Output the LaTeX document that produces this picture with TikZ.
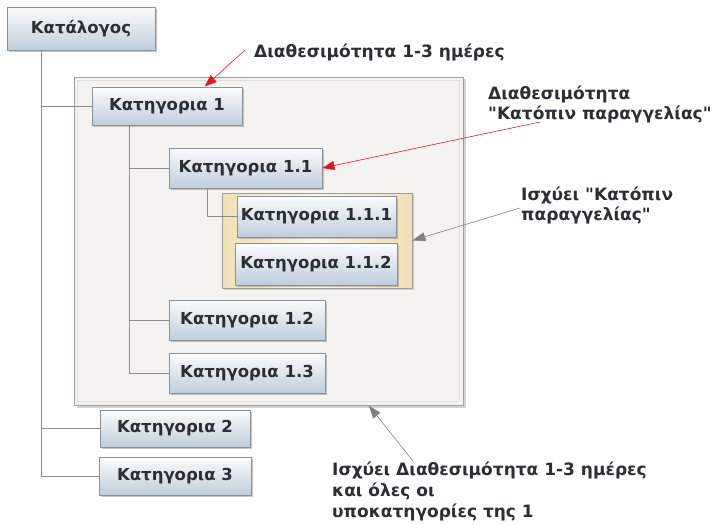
\documentclass[tikz,border=0pt]{standalone}
\usepackage{fontspec}
\setmainfont{DejaVu Sans}
\usetikzlibrary{calc,arrows.meta,shadows}
\definecolor{boxtop}{HTML}{FBFCFD}
\definecolor{boxbot}{HTML}{BFCEDC}
\definecolor{boxedge}{HTML}{8A9198}
\definecolor{ink}{HTML}{2B2E33}
\definecolor{treeline}{HTML}{8C8C8C}
\definecolor{panel}{HTML}{F4F3EF}
\definecolor{beige}{HTML}{F0E0B4}
\definecolor{cream}{HTML}{FAF6EA}
\definecolor{hotred}{HTML}{E8141C}
\definecolor{notegray}{HTML}{7F7F7F}
\tikzset{
  catbox/.style={draw=boxedge, line width=0.8pt, top color=boxtop, bottom color=boxbot,
    text=ink, font=\bfseries\fontsize{16.5}{19}\selectfont, inner sep=0pt,
    drop shadow={opacity=0.45, shadow xshift=2pt, shadow yshift=-2pt}},
  panelbox/.style={draw=gray!75, line width=0.9pt, fill=panel,
    drop shadow={opacity=0.35, shadow xshift=2.5pt, shadow yshift=-2.5pt}},
  subpanel/.style={draw=gray!75, line width=0.8pt, left color=beige, right color=beige,
    middle color=cream, drop shadow={opacity=0.3, shadow xshift=2pt, shadow yshift=-2pt}},
  panelline/.style={draw=gray!25, line width=0.8pt},
  branch/.style={draw=treeline, line width=0.8pt},
  note/.style={text=ink, font=\bfseries\fontsize{17}{20}\selectfont, inner sep=0pt, align=left},
  redarrow/.style={-{Triangle[length=12pt,width=9pt]}, draw=hotred, fill=hotred, line width=0.5pt},
  grayarrow/.style={-{Triangle[length=13pt,width=9pt]}, draw=notegray, fill=notegray, line width=0.5pt}
}
\begin{document}
\begin{tikzpicture}[x=1pt,y=-1pt]
  \useasboundingbox (0,0) rectangle (725,524);

  % Panels
  \node[panelbox, minimum width=389pt, minimum height=328pt] (grp1) at (268.5,241) {};
  \draw[panelline] ($(grp1.north west)+(4,4)$) rectangle ($(grp1.south east)+(-4,-4)$);
  \node[subpanel, minimum width=190pt, minimum height=95pt] (grp11) at (317,240.5) {};

  % Category boxes
  \node[catbox, minimum width=148pt, minimum height=43pt] (cat) at (81,28.5) {Κατάλογος};
  \node[catbox, minimum width=150pt, minimum height=38pt] (k1) at (167,106) {Κατηγορια 1};
  \node[catbox, minimum width=153pt, minimum height=40pt] (k11) at (245.5,168) {Κατηγορια 1.1};
  \node[catbox, minimum width=159pt, minimum height=41pt] (k111) at (316.5,216.5) {Κατηγορια 1.1.1};
  \node[catbox, minimum width=162pt, minimum height=42pt] (k112) at (316,264) {Κατηγορια 1.1.2};
  \node[catbox, minimum width=156pt, minimum height=40pt] (k12) at (247,320) {Κατηγορια 1.2};
  \node[catbox, minimum width=156pt, minimum height=40pt] (k13) at (247,373) {Κατηγορια 1.3};
  \node[catbox, minimum width=150pt, minimum height=37pt] (k2) at (175,428.5) {Κατηγορια 2};
  \node[catbox, minimum width=152pt, minimum height=38pt] (k3) at (175,476) {Κατηγορια 3};

  % Tree lines
  \coordinate (t0) at ($(cat.south west)!0.237!(cat.south east)$);
  \coordinate (t1) at ($(k1.south west)!0.25!(k1.south east)$);
  \coordinate (t2) at ($(k11.south west)!0.25!(k11.south east)$);
  \draw[branch] (t0) |- (k1.west);
  \draw[branch] (t0) |- (k2.west);
  \draw[branch] (t0) |- (k3.west);
  \draw[branch] (t1) |- (k11.west);
  \draw[branch] (t1) |- (k12.west);
  \draw[branch] (t1) |- (k13.west);
  \draw[branch] (t2) |- (k111.west);

  % Notes
  \node[note, anchor=base west] (n1) at (254,58) {Διαθεσιμότητα 1-3 ημέρες};
  \node[note, anchor=north west] (n2) at (488,86) {Διαθεσιμότητα\\\textquotedbl Κατόπιν παραγγελίας\textquotedbl};
  \node[note, anchor=north west] (n3) at (521,187) {Ισχύει \textquotedbl Κατόπιν\\παραγγελίας\textquotedbl};
  \node[note, anchor=north west, font=\bfseries\fontsize{17}{21}\selectfont] (n4) at (332,462)
    {Ισχύει Διαθεσιμότητα 1-3 ημέρες\\και όλες οι\\υποκατηγορίες της 1};

  % Arrows
  \coordinate (a1) at (245,50);
  \coordinate (a2) at (540,122);
  \coordinate (a3) at (520,208);
  \coordinate (a4) at (413,461);
  \draw[redarrow] (a1) -- ($(k1.north west)!0.75!(k1.north east)$);
  \draw[redarrow] (a2) -- (k11.east);
  \draw[grayarrow] (a3) -- (grp11.east);
  \draw[grayarrow] (a4) -- ($(grp1.south west)!0.757!(grp1.south east)$);
\end{tikzpicture}
\end{document}
